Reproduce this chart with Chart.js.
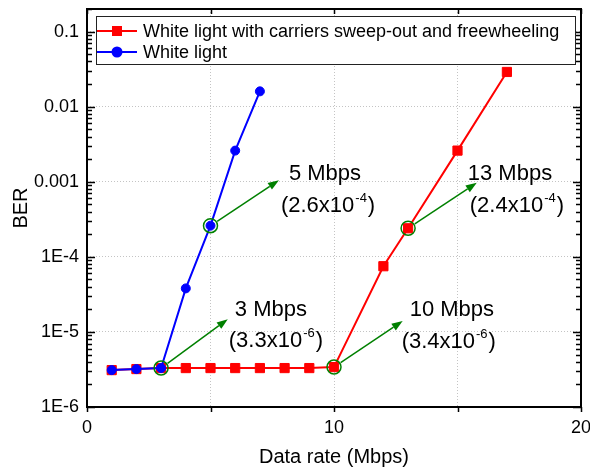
<!DOCTYPE html>
<html>
<head>
<meta charset="utf-8">
<script src="https://cdn.jsdelivr.net/npm/chart.js@4"></script>
<style>
  html, body { margin: 0; padding: 0; background: #fff; }
</style>
</head>
<body>
<canvas id="chart" width="590" height="470"></canvas>
<script>
// data
const xWhite = [1, 2, 3, 4, 5, 6, 7];
const berWhite = [3.1e-6, 3.2e-6, 3.3e-6, 3.8e-5, 2.6e-4, 2.6e-3, 1.6e-2];

const xSweep = [1, 2, 3, 4, 5, 6, 7, 8, 9, 10, 12, 13, 15, 17];
const berSweep = [3.1e-6, 3.2e-6, 3.3e-6, 3.3e-6, 3.3e-6, 3.3e-6, 3.3e-6, 3.3e-6, 3.3e-6, 3.4e-6, 7.5e-5, 2.4e-4, 2.6e-3, 2.9e-2];

// highlighted points and where their arrows point to
const markX = [3, 5, 10, 13];
const markBer = [3.3e-6, 2.6e-4, 3.4e-6, 2.4e-4];
const arrowX = [5.7, 7.77, 12.78, 15.78];
const arrowBer = [1.48e-5, 1.05e-3, 1.40e-5, 9.7e-4];
const rateLabels = ['3 Mbps', '5 Mbps', '10 Mbps', '13 Mbps'];
const berMantissa = ['3.3', '2.6', '3.4', '2.4'];
const berExponent = ['-6', '-4', '-6', '-4'];

const xTicks = [0, 5, 10, 15, 20];
const xTickLabels = ['0', '', '10', '', '20'];
const yTicks = [1e-6, 1e-5, 1e-4, 1e-3, 1e-2, 1e-1];
const yTickLabels = ['1E-6', '1E-5', '1E-4', '0.001', '0.01', '0.1'];

const legendSweep = 'White light with carriers sweep-out and freewheeling';
const legendWhite = 'White light';

const FONT = 'Arial, "Liberation Sans", sans-serif';
const GREEN = '#008000';
const RED = '#ff0000';
const BLUE = '#0000ff';

// pixel offsets of the two text lines from the arrow tip (x, baseline y)
const labelOffsets = [
  [7, -3, 1, 28],
  [10, 0, 2, 32],
  [7, -5, -1, 27],
  [-9, -3, -7, 29],
];

function drawArrow(ctx, x0, y0, x1, y1) {
  const ang = Math.atan2(y1 - y0, x1 - x0);
  const c = Math.cos(ang), s = Math.sin(ang);
  const sx = x0 + 8 * c, sy = y0 + 8 * s;
  const head = 11, half = 4;
  const bx = x1 - head * c, by = y1 - head * s;
  ctx.beginPath();
  ctx.moveTo(sx, sy);
  ctx.lineTo(bx, by);
  ctx.stroke();
  ctx.beginPath();
  ctx.moveTo(x1, y1);
  ctx.lineTo(bx - half * s, by + half * c);
  ctx.lineTo(bx + half * s, by - half * c);
  ctx.closePath();
  ctx.fill();
}

const decorations = {
  id: 'decorations',
  afterDatasetsDraw(chart) {
    const { ctx, scales: { x, y } } = chart;
    ctx.save();
    ctx.strokeStyle = GREEN;
    ctx.fillStyle = GREEN;
    ctx.lineWidth = 1.5;
    markX.forEach((mx, i) => {
      const px = x.getPixelForValue(mx), py = y.getPixelForValue(markBer[i]);
      const tx = x.getPixelForValue(arrowX[i]), ty = y.getPixelForValue(arrowBer[i]);
      drawArrow(ctx, px, py, tx, ty);

      const [dx1, dy1, dx2, dy2] = labelOffsets[i];
      ctx.fillStyle = '#000';
      ctx.textBaseline = 'alphabetic';
      ctx.textAlign = 'left';
      ctx.font = '22px ' + FONT;
      ctx.fillText(rateLabels[i], tx + dx1, ty + dy1);

      let cx = tx + dx2;
      const by = ty + dy2;
      const main = '(' + berMantissa[i] + 'x10';
      ctx.fillText(main, cx, by);
      cx += ctx.measureText(main).width;
      ctx.font = '13px ' + FONT;
      ctx.fillText(berExponent[i], cx + 1, by - 10);
      cx += ctx.measureText(berExponent[i]).width + 2;
      ctx.font = '22px ' + FONT;
      ctx.fillText(')', cx, by);
      ctx.fillStyle = GREEN;
    });
    ctx.restore();
  },
  afterDraw(chart) {
    const { ctx, chartArea: a, scales: { x, y } } = chart;
    ctx.save();
    ctx.strokeStyle = '#000';
    ctx.lineWidth = 1.5;

    // y ticks, inward on both sides
    ctx.beginPath();
    for (let k = -6; k <= -1; k++) {
      for (let m = 1; m <= 9; m++) {
        const v = m * Math.pow(10, k);
        if (v > y.max * 1.0001) continue;
        const py = Math.round(y.getPixelForValue(v)) + 0.5;
        const len = m === 1 ? 8 : 5;
        ctx.moveTo(a.left, py); ctx.lineTo(a.left + len, py);
        ctx.moveTo(a.right, py); ctx.lineTo(a.right - len, py);
      }
    }
    // x ticks: outward at bottom, inward at top
    xTicks.forEach(v => {
      const px = Math.round(x.getPixelForValue(v)) + 0.5;
      ctx.moveTo(px, a.bottom); ctx.lineTo(px, a.bottom + 5);
      ctx.moveTo(px, a.top); ctx.lineTo(px, a.top + 5);
    });
    ctx.stroke();

    // frame
    ctx.lineWidth = 2;
    ctx.strokeRect(a.left, a.top, a.right - a.left, a.bottom - a.top);

    // legend
    const lx = a.left + 9, ly = a.top + 7, lw = 480, lh = 49;
    ctx.fillStyle = '#fff';
    ctx.fillRect(lx, ly, lw, lh);
    ctx.lineWidth = 1;
    ctx.strokeStyle = '#222';
    ctx.strokeRect(lx + 0.5, ly + 0.5, lw - 1, lh - 1);

    const rows = [
      { text: legendSweep, color: RED, style: 'rect', yy: ly + 15 },
      { text: legendWhite, color: BLUE, style: 'circle', yy: ly + 36 },
    ];
    rows.forEach(r => {
      ctx.strokeStyle = r.color;
      ctx.fillStyle = r.color;
      ctx.lineWidth = 2;
      ctx.beginPath();
      ctx.moveTo(lx + 1, r.yy);
      ctx.lineTo(lx + 41, r.yy);
      ctx.stroke();
      const mx = lx + 21;
      if (r.style === 'rect') {
        ctx.fillRect(mx - 5, r.yy - 5, 10, 10);
      } else {
        ctx.beginPath();
        ctx.arc(mx, r.yy, 5.5, 0, Math.PI * 2);
        ctx.fill();
      }
      ctx.fillStyle = '#000';
      ctx.font = '18px ' + FONT;
      ctx.textAlign = 'left';
      ctx.textBaseline = 'middle';
      ctx.fillText(r.text, lx + 47, r.yy + 1);
    });
    ctx.restore();
  },
};

const gridOpts = { color: '#c4c4c4', lineWidth: 1, drawTicks: false };

new Chart(document.getElementById('chart'), {
  type: 'scatter',
  data: {
    datasets: [
      {
        label: legendSweep,
        data: xSweep.map((v, i) => ({ x: v, y: berSweep[i] })),
        showLine: true,
        borderColor: RED,
        backgroundColor: RED,
        borderWidth: 2,
        pointStyle: 'rect',
        pointRadius: 6.5,
        pointBorderWidth: 1,
        order: 2,
      },
      {
        label: legendWhite,
        data: xWhite.map((v, i) => ({ x: v, y: berWhite[i] })),
        showLine: true,
        borderColor: BLUE,
        backgroundColor: BLUE,
        borderWidth: 2,
        pointStyle: 'circle',
        pointRadius: 4.5,
        pointBorderWidth: 1,
        order: 1,
      },
      {
        label: 'marked',
        data: markX.map((v, i) => ({ x: v, y: markBer[i] })),
        showLine: false,
        borderColor: GREEN,
        backgroundColor: 'rgba(0,0,0,0)',
        pointStyle: 'circle',
        pointRadius: 7,
        pointBorderWidth: 1.5,
        order: 0,
      },
    ],
  },
  options: {
    responsive: false,
    animation: false,
    devicePixelRatio: 1,
    events: [],
    layout: { padding: { top: 9, right: 9, left: 0, bottom: 0 } },
    plugins: { legend: { display: false }, tooltip: { enabled: false } },
    scales: {
      x: {
        type: 'linear',
        min: 0,
        max: 20,
        afterBuildTicks: s => { s.ticks = xTicks.map(v => ({ value: v })); },
        afterFit: s => {
          s.height = 63;
          s.paddingLeft = 0;
          s.paddingRight = 0;
        },
        ticks: {
          callback: (v, i) => xTickLabels[i],
          autoSkip: false,
          maxRotation: 0,
          padding: 10,
          color: '#000',
          font: { family: FONT, size: 18 },
        },
        grid: gridOpts,
        border: { display: false, dash: [1, 2] },
        title: {
          display: true,
          text: 'Data rate (Mbps)',
          color: '#000',
          font: { family: FONT, size: 20 },
          padding: { top: 0, bottom: 1 },
        },
      },
      y: {
        type: 'logarithmic',
        min: 1e-6,
        max: 0.2,
        afterBuildTicks: s => { s.ticks = yTicks.map(v => ({ value: v })); },
        afterFit: s => {
          s.width = 87;
          s.paddingTop = 0;
          s.paddingBottom = 0;
        },
        ticks: {
          callback: (v, i) => yTickLabels[i],
          autoSkip: false,
          padding: 8,
          color: '#000',
          font: { family: FONT, size: 18 },
        },
        grid: gridOpts,
        border: { display: false, dash: [1, 2] },
        title: {
          display: true,
          text: 'BER',
          color: '#000',
          font: { family: FONT, size: 20 },
          padding: { top: 9, bottom: 0 },
        },
      },
    },
  },
  plugins: [decorations],
});
</script>
</body>
</html>
